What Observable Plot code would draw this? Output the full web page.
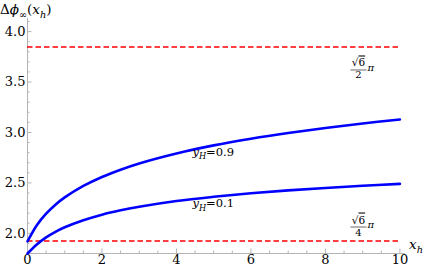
<!DOCTYPE html>
<html><head><meta charset="utf-8">
<script src="https://cdn.jsdelivr.net/npm/d3@7"></script>
<script src="https://cdn.jsdelivr.net/npm/@observablehq/plot@0.6"></script>
<style>
body{margin:0;background:#fff}
</style>
</head><body><div id="chart"></div>
<script>
// ---- data ----
const xh    = [0, 0.25, 0.5, 0.75, 1, 1.5, 2, 2.5, 3, 4, 5, 6, 7, 8, 9, 10];
const yH09  = [1.92, 2.081, 2.195, 2.284, 2.356, 2.470, 2.559, 2.631, 2.693, 2.792, 2.872, 2.938, 2.995, 3.045, 3.089, 3.129];
const yH01  = [1.80, 1.89, 1.96, 2.015, 2.06, 2.13, 2.185, 2.228, 2.263, 2.32, 2.362, 2.397, 2.426, 2.45, 2.471, 2.49];
const seriesNames = ["0.9", "0.1"];
const refValues = [Math.sqrt(6) / 2 * Math.PI, Math.sqrt(6) / 4 * Math.PI];
const refDenoms = ["2", "4"];
const xTicks = [0, 2, 4, 6, 8, 10];
const xMinorTicks = [0.5, 1, 1.5, 2.5, 3, 3.5, 4.5, 5, 5.5, 6.5, 7, 7.5, 8.5, 9, 9.5];
const yTicks = [2.0, 2.5, 3.0, 3.5, 4.0];
const yMinorTicks = [1.9, 2.1, 2.2, 2.3, 2.4, 2.6, 2.7, 2.8, 2.9, 3.1, 3.2, 3.3, 3.4, 3.6, 3.7, 3.8, 3.9, 4.1];
const xDomain = [0, 10.15];
const yDomain = [1.8, 4.13];

const curves = [
  ...xh.map((x, i) => ({x, y: yH09[i], s: seriesNames[0]})),
  ...xh.map((x, i) => ({x, y: yH01[i], s: seriesNames[1]}))
];

const FONT = "DejaVu Serif";
const gray = "#b4b4b4";
const plot = Plot.plot({
  width: 424, height: 272,
  marginLeft: 27, marginRight: 19, marginTop: 18, marginBottom: 19,
  x: {domain: xDomain},
  y: {domain: yDomain},
  style: {fontSize: "13px", color: "black", background: "white"},
  marks: [
    Plot.ruleX([xDomain[0]], {y1: yDomain[0], y2: yDomain[1], stroke: gray}),
    Plot.ruleY([yDomain[0]], {x1: xDomain[0], x2: xDomain[1], stroke: gray}),
    Plot.axisX({ticks: xMinorTicks, tickSize: -2.5, tickFormat: () => "", stroke: gray, label: null}),
    Plot.axisX({ticks: xTicks, tickSize: -4.5, tickPadding: 6, stroke: gray, label: null, fontSize: 13}),
    Plot.axisY({ticks: yMinorTicks, tickSize: -2.5, tickFormat: () => "", stroke: gray, label: null}),
    Plot.axisY({ticks: yTicks, tickSize: -4.5, tickPadding: 6.5, tickFormat: d3.format(".1f"), stroke: gray, label: null, fontSize: 13}),
    Plot.ruleY(refValues, {x1: xTicks[0], x2: xTicks[xTicks.length - 1], stroke: "#ff0000", strokeWidth: 1.6, strokeDasharray: "5.5,3"}),
    Plot.line(curves, {x: "x", y: "y", z: "s", curve: "catmull-rom", stroke: "#0000ff", strokeWidth: 2.6})
  ]
});
document.getElementById("chart").appendChild(plot);

// ---- rich-text labels positioned with the plot's own scales ----
const sx = plot.scale("x"), sy = plot.scale("y");
const svg = d3.select(plot);
function rich(px, py, parts, size, anchor = "start") {
  const t = svg.append("text").attr("x", px).attr("y", py)
    .attr("font-size", size).attr("text-anchor", anchor).attr("fill", "black");
  for (const p of parts) {
    const ts = t.append("tspan").text(p.t);
    if (p.italic) ts.attr("font-style", "italic");
    if (p.sub) ts.attr("font-size", size * 0.72).attr("dy", size * 0.28);
    if (p.up) ts.attr("dy", -size * 0.28);
    if (p.over) ts.attr("text-decoration", "overline");
  }
  return t;
}
// y-axis title
rich(0, 14, [{t: "Δ"}, {t: "ϕ", italic: true}, {t: "∞", sub: true}, {t: "(", up: true}, {t: "x", italic: true}, {t: "h", italic: true, sub: true}, {t: ")", up: true}], 13.5);
// x-axis title
rich(sx.apply(xDomain[1]) + 4, sy.apply(yDomain[0]) - 4, [{t: "x", italic: true}, {t: "h", italic: true, sub: true}], 13.5);
// curve labels, placed under each curve at x = 5
[yH09, yH01].forEach((arr, i) => {
  const k = xh.indexOf(5);
  rich(sx.apply(5), sy.apply(arr[k]) + 11, [{t: "y", italic: true}, {t: "H", italic: true, sub: true}, {t: "=" + seriesNames[i], up: true}], 11.5, "middle");
});
// fraction labels for the reference lines
refValues.forEach((v, i) => {
  const cx = sx.apply(8.9);
  const base = i === 0 ? sy.apply(v) + 20 : sy.apply(v) - 17;
  rich(cx, base, [{t: "√"}, {t: "6", over: true}], 10.5, "middle");
  svg.append("line").attr("x1", cx - 8).attr("x2", cx + 8)
    .attr("y1", base + 3.5).attr("y2", base + 3.5).attr("stroke", "black").attr("stroke-width", 0.6);
  rich(cx, base + 12, [{t: refDenoms[i]}], 10, "middle");
  rich(cx + 9, base + 4.5, [{t: "π", italic: true}], 10);
});
// apply the serif family to every text element and to the svg root
svg.attr("font-family", FONT).style("font-family", FONT);
svg.selectAll("g").attr("font-family", FONT);
svg.selectAll("text").attr("font-family", FONT).style("font-family", FONT);
</script>
</body></html>
